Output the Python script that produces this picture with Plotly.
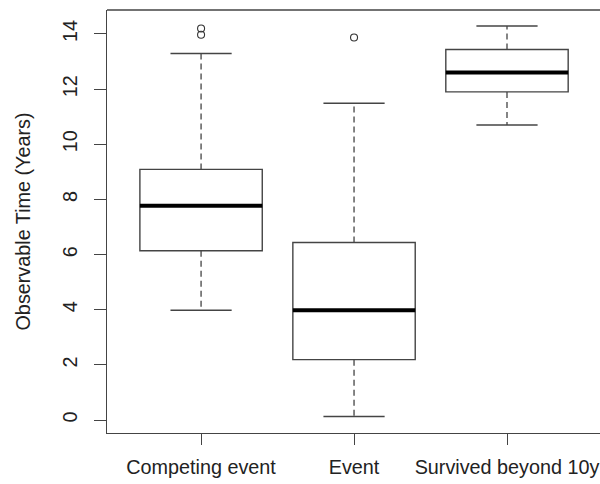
import plotly.graph_objects as go

# Boxplot summary of observable time by outcome group
categories = ["Competing event", "Event", "Survived beyond 10y"]
positions = [1, 2, 3]
lower_whisker = [3.98, 0.13, 10.70]
q1 = [6.14, 2.19, 11.90]
median = [7.77, 3.98, 12.60]
q3 = [9.09, 6.44, 13.44]
upper_whisker = [13.29, 11.49, 14.29]
outlier_group = [1, 1, 2]
outlier_values = [14.20, 13.97, 13.87]

y_ticks = [0, 2, 4, 6, 8, 10, 12, 14]

INK = "#222222"
LINE = "#444444"
BOX_W = 0.8
CAP_W = 0.4
FS = 19.8

fig = go.Figure()

# boxes (hinges only; whiskers drawn separately as dashed lines)
for i, pos in enumerate(positions):
    fig.add_trace(go.Box(
        x=[pos], q1=[q1[i]], median=[median[i]], q3=[q3[i]],
        lowerfence=[q1[i]], upperfence=[q3[i]],
        width=BOX_W, fillcolor="white",
        line=dict(color=LINE, width=1.4),
        whiskerwidth=0, boxpoints=False, hoverinfo="skip",
        showlegend=False,
    ))

for i, pos in enumerate(positions):
    # dashed whiskers
    for a, b in ((q3[i], upper_whisker[i]), (q1[i], lower_whisker[i])):
        fig.add_trace(go.Scatter(
            x=[pos, pos], y=[a, b], mode="lines",
            line=dict(color=LINE, width=1.3, dash="6px,4px"),
            showlegend=False, hoverinfo="skip",
        ))
    # whisker caps
    for v in (upper_whisker[i], lower_whisker[i]):
        fig.add_trace(go.Scatter(
            x=[pos - CAP_W / 2, pos + CAP_W / 2], y=[v, v], mode="lines",
            line=dict(color=LINE, width=1.4),
            showlegend=False, hoverinfo="skip",
        ))
    # thick median bar
    fig.add_trace(go.Scatter(
        x=[pos - BOX_W / 2, pos + BOX_W / 2], y=[median[i], median[i]],
        mode="lines", line=dict(color="black", width=4),
        showlegend=False, hoverinfo="skip",
    ))

# outliers as open circles
fig.add_trace(go.Scatter(
    x=outlier_group, y=outlier_values, mode="markers",
    marker=dict(symbol="circle-open", size=7, color="#333333",
                line=dict(width=1.1)),
    showlegend=False, hoverinfo="skip",
))

font_family = "Liberation Sans, Arial, sans-serif"

# top frame line (the plot region runs off the right edge of the page)
fig.add_shape(type="line", xref="paper", yref="paper",
              x0=0, x1=1, y0=1, y1=1,
              line=dict(color=LINE, width=1.4))

fig.update_layout(
    width=600, height=484,
    margin=dict(l=107, r=0, t=10, b=51),
    paper_bgcolor="white", plot_bgcolor="white",
    font=dict(family=font_family, size=FS, color=INK),
    xaxis=dict(
        range=[0.385, 3.608],
        tickmode="array", tickvals=positions, ticktext=categories,
        ticks="outside", ticklen=11, tickwidth=1.3, tickcolor=LINE,
        ticklabelstandoff=5,
        showline=True, linecolor=LINE, linewidth=1.4,
        showgrid=False, zeroline=False,
        tickfont=dict(size=FS, color=INK),
    ),
    yaxis=dict(
        range=[-0.47, 14.87],
        tickmode="array", tickvals=y_ticks,
        ticks="outside", ticklen=12, tickwidth=1.3, tickcolor=LINE,
        tickangle=-90, ticklabelstandoff=9,
        showline=True, linecolor=LINE, linewidth=1.4,
        showgrid=False, zeroline=False,
        tickfont=dict(size=FS, color=INK),
        title=dict(text="Observable Time (Years)",
                   font=dict(size=FS, color=INK), standoff=22),
    ),
)

fig.write_html("out.html")
